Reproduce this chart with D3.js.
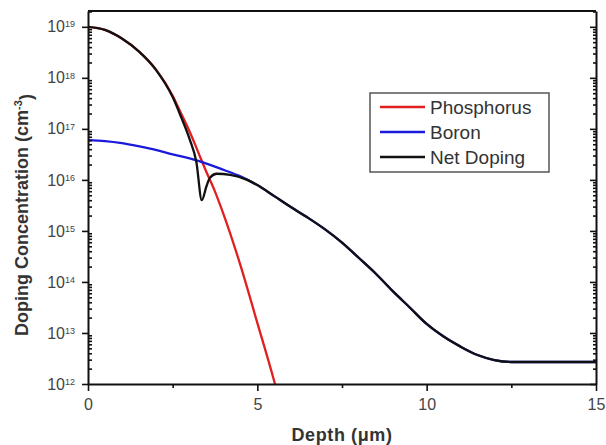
<!DOCTYPE html>
<html>
<head>
<meta charset="utf-8">
<script src="https://cdn.jsdelivr.net/npm/d3@7"></script>
<style>
  body { margin: 0; background: #fff; }
  svg { font-family: "Liberation Sans", Arial, sans-serif; }
</style>
</head>
<body>
<svg id="chart" width="606" height="445"></svg>
<script>
// values (depth in um, concentration in cm^-3)
const phosDepth = [0, 0.5, 1, 1.5, 2, 2.5, 2.75, 3, 3.25, 3.5, 3.75, 4, 4.5, 5, 5.5, 5.7];
const phosConc = [1e19, 8.7e18, 5.9e18, 3.3e18, 1.48e18, 4.47e17, 2.0e17, 8.9e16, 3.55e16, 1.41e16, 5.9e15, 2.14e15, 2.14e14, 1.58e13, 1.12e12, 3.5e11];

const boronDepth = [0, 0.5, 1, 1.5, 2, 2.5, 3, 3.5, 4, 4.5, 5, 5.5, 6, 6.5, 7, 7.5, 8, 8.5, 9, 9.5, 10, 10.5, 11, 11.5, 12, 12.5, 13, 15];
const boronConc = [6.0e16, 5.75e16, 5.25e16, 4.57e16, 3.89e16, 3.16e16, 2.63e16, 2.09e16, 1.58e16, 1.17e16, 7.9e15, 4.8e15, 2.9e15, 1.8e15, 1.07e15, 5.9e14, 2.95e14, 1.45e14, 6.6e13, 3.16e13, 1.5e13, 8.5e12, 5.4e12, 3.7e12, 2.95e12, 2.7e12, 2.7e12, 2.7e12];

const netDepth = [0, 0.5, 1, 1.5, 2, 2.5, 2.75, 3, 3.2, 3.36, 3.5, 3.6, 3.8, 4.2, 4.7, 5, 5.5, 6, 6.5, 7, 7.5, 8, 8.5, 9, 9.5, 10, 10.5, 11, 11.5, 12, 12.5, 13, 15];
const netConc = [1e19, 8.7e18, 5.9e18, 3.3e18, 1.45e18, 4.2e17, 1.7e17, 6.3e16, 2.24e16, 4.0e15, 7.6e15, 1.1e16, 1.32e16, 1.26e16, 1.0e16, 7.9e15, 4.8e15, 2.9e15, 1.8e15, 1.07e15, 5.9e14, 2.95e14, 1.45e14, 6.6e13, 3.16e13, 1.5e13, 8.5e12, 5.4e12, 3.7e12, 2.95e12, 2.7e12, 2.7e12, 2.7e12];

const seriesNames = ["Phosphorus", "Boron", "Net Doping"];
const seriesColors = ["#e02020", "#1a1adc", "#111111"];

const xTicks = [0, 5, 10, 15];
const xMinorTicks = [2.5, 7.5, 12.5];
const yExponents = [12, 13, 14, 15, 16, 17, 18, 19];

const svg = d3.select("#chart");

// plot box
const plotLeft = 88, plotRight = 596, plotTop = 11, plotBottom = 384;

const x = d3.scaleLinear().domain([0, 15]).range([plotLeft, plotRight]);
const y = d3.scaleLog().domain([1e12, Math.pow(10, 19.31)]).range([plotBottom, plotTop]);

// minor log ticks (2..9 in every decade)
let yMinor = [];
for (let e = 12; e < 20; e++) {
    for (let m = 2; m <= 9; m++) {
        let v = m * Math.pow(10, e);
        if (v < y.domain()[1]) yMinor.push(v);
    }
}

svg.append("clipPath").attr("id", "plotClip")
    .append("rect")
    .attr("x", plotLeft).attr("y", plotTop)
    .attr("width", plotRight - plotLeft).attr("height", plotBottom - plotTop);

// curves
const curves = svg.append("g").attr("clip-path", "url(#plotClip)");
const series = [
    { depth: phosDepth, conc: phosConc },
    { depth: boronDepth, conc: boronConc },
    { depth: netDepth, conc: netConc }
];

series.forEach((s, i) => {
    let pts = s.depth.map((d, j) => [d, s.conc[j]]);
    let line = d3.line()
        .x(d => x(d[0]))
        .y(d => y(d[1]))
        .curve(d3.curveMonotoneX);
    curves.append("path")
        .datum(pts)
        .attr("d", line)
        .attr("fill", "none")
        .attr("stroke", seriesColors[i])
        .attr("stroke-width", 2.3)
        .attr("stroke-linejoin", "round");
});

// frame: top line
svg.append("line")
    .attr("x1", plotLeft).attr("x2", plotRight).attr("y1", plotTop).attr("y2", plotTop)
    .attr("stroke", "#111").attr("stroke-width", 2);

// left axis, major ticks outside
const yAxisG = svg.append("g")
    .attr("transform", `translate(${plotLeft},0)`)
    .call(d3.axisLeft(y).tickValues(yExponents.map(e => Math.pow(10, e))).tickSize(6).tickSizeOuter(0));
// minor ticks inside
svg.append("g")
    .attr("transform", `translate(${plotLeft},0)`)
    .call(d3.axisLeft(y).tickValues(yMinor).tickSize(-4).tickFormat(""))
    .call(g => g.select(".domain").remove());

// right axis, ticks inside
svg.append("g")
    .attr("transform", `translate(${plotRight},0)`)
    .call(d3.axisRight(y).tickValues(yExponents.map(e => Math.pow(10, e))).tickSize(-6).tickSizeOuter(0).tickFormat(""));
svg.append("g")
    .attr("transform", `translate(${plotRight},0)`)
    .call(d3.axisRight(y).tickValues(yMinor).tickSize(-3).tickFormat(""))
    .call(g => g.select(".domain").remove());

// y tick labels as 10 with superscript
yAxisG.selectAll(".tick text").each(function (d) {
    let t = d3.select(this);
    t.text(null)
        .attr("x", -13)
        .attr("dy", "0.32em")
        .attr("fill", "#444")
        .attr("font-size", 16);
    t.append("tspan").text("10");
    t.append("tspan")
        .attr("dy", "-0.55em")
        .attr("font-size", 9)
        .text(Math.round(Math.log10(d)));
});

// bottom axis
const xAxisG = svg.append("g")
    .attr("transform", `translate(0,${plotBottom})`)
    .call(d3.axisBottom(x).tickValues(xTicks).tickSize(7).tickSizeOuter(0).tickPadding(8));
svg.append("g")
    .attr("transform", `translate(0,${plotBottom})`)
    .call(d3.axisBottom(x).tickValues(xMinorTicks).tickSize(4).tickFormat(""))
    .call(g => g.select(".domain").remove());

xAxisG.selectAll(".tick text")
    .attr("fill", "#444")
    .attr("font-size", 16);

// axis line styling
svg.selectAll(".domain").attr("stroke", "#111").attr("stroke-width", 2);
svg.selectAll(".tick line").attr("stroke", "#111").attr("stroke-width", 1.6);

// axis titles
svg.append("text")
    .attr("x", (plotLeft + plotRight) / 2)
    .attr("y", 441)
    .attr("text-anchor", "middle")
    .attr("font-size", 18)
    .attr("font-weight", "bold")
    .attr("letter-spacing", 0.6)
    .attr("fill", "#333")
    .text("Depth (μm)");

const yTitle = svg.append("text")
    .attr("transform", "translate(28,215) rotate(-90)")
    .attr("text-anchor", "middle")
    .attr("font-size", 18)
    .attr("font-weight", "bold")
    .attr("fill", "#333");
yTitle.append("tspan").text("Doping Concentration (cm");
yTitle.append("tspan").attr("dy", "-0.55em").attr("font-size", 11).text("-3");
yTitle.append("tspan").attr("dy", "0.55em").text(")");

// legend
const legend = svg.append("g");
legend.append("rect")
    .attr("x", 370).attr("y", 93)
    .attr("width", 179).attr("height", 79)
    .attr("fill", "#fff")
    .attr("stroke", "#555").attr("stroke-width", 1.5);

seriesNames.forEach((name, i) => {
    let ly = 107 + i * 25;
    legend.append("line")
        .attr("x1", 380).attr("x2", 425)
        .attr("y1", ly).attr("y2", ly)
        .attr("stroke", seriesColors[i]).attr("stroke-width", 2.5);
    legend.append("text")
        .attr("x", 430).attr("y", ly)
        .attr("dy", "0.35em")
        .attr("font-size", 19)
        .attr("fill", "#333")
        .text(name);
});
</script>
</body>
</html>
